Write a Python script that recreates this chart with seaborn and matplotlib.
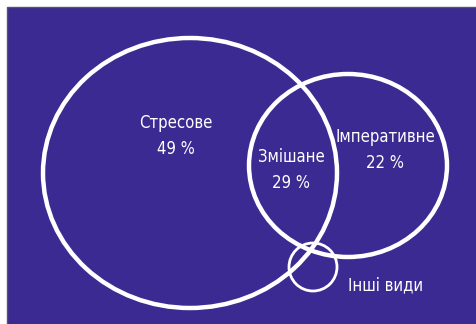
import matplotlib
matplotlib.use("Agg")
import matplotlib.pyplot as plt
from matplotlib.patches import Ellipse, Rectangle
import seaborn as sns

# Data
categories = ["Стресове", "Змішане", "Імперативне", "Інші види"]
values = [49, 29, 22, None]

# Layout (pixel coordinates of the 477x324 canvas)
label_pos = [(176, 136), (291, 170), (385, 150), (386, 285)]
ellipses = [  # (cx, cy, width, height, linewidth)
    (190, 173, 294, 270, 3.2),
    (348, 165.5, 198, 183, 3.2),
    (313, 267, 48, 48, 2.0),
]

sns.set_theme(style="white")
plt.rcParams['font.family'] = ['DejaVu Sans']

BG = "#3b2a91"
fig = plt.figure(figsize=(4.77, 3.24), dpi=100)
ax = fig.add_axes([0, 0, 1, 1])
ax.set_xlim(0, 477)
ax.set_ylim(324, 0)
ax.axis("off")
fig.patch.set_facecolor("white")

ax.add_patch(Rectangle((7.5, 6.5), 470, 318, facecolor=BG, edgecolor="#555566", linewidth=1.0, zorder=0))

for cx, cy, w, h, lw in ellipses:
    ax.add_patch(Ellipse((cx, cy), w, h, facecolor="none", edgecolor="white", linewidth=lw, zorder=2))

for name, val, (x, y) in zip(categories, values, label_pos):
    txt = name if val is None else f"{name}\n{val} %"
    ax.text(x, y, txt, color="white", fontsize=12, fontstretch="condensed",
            ha="center", va="center", linespacing=1.6, zorder=3)

fig.savefig("out.png", dpi=100, facecolor=fig.get_facecolor())
